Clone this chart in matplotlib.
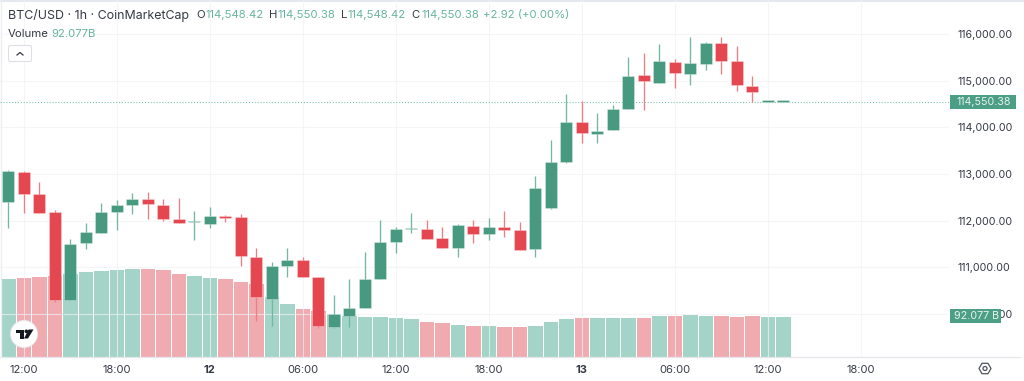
import matplotlib
matplotlib.use("Agg")
import matplotlib.pyplot as plt
from matplotlib.patches import FancyBboxPatch, Circle, Polygon, Rectangle
from matplotlib.lines import Line2D
import numpy as np

W, H = 1024, 381
FONT = ["Inter", "Roboto", "DejaVu Sans"]
plt.rcParams["font.family"] = FONT

# Upper and lower body edge of each hourly candle, wick ends, direction, volume (billions)
body_top = [113064,113049,112571,112185,111506,111757,112185,112329,112464,112457,112342,112042,111978,112106,112100,
            112072,111215,111035,111157,111150,110793,110006,110122,110750,111549,111828,111843,111828,111621,111900,
            111892,111870,111858,111806,112693,113263,114121,114121,113921,114393,115106,115121,115415,115406,115372,
            115807,115814,115415,114892,114552,114550.38]
body_bot = [112406,112571,112170,110306,110306,111520,111742,112185,112342,112350,112042,111956,111965,111922,112057,
            111243,110370,110327,111035,110793,109736,109721,109963,110122,110750,111549,111822,111613,111408,111408,
            111720,111714,111806,111371,111386,112278,113257,113872,113864,113936,114386,114986,114956,115158,115143,
            115364,115421,114901,114751,114546,114548.42]
wick_high = [113075,113064,112835,112222,111607,111943,112372,112436,112599,112614,112457,112479,112213,112299,112121,
             112143,111420,111108,111408,111215,110800,110407,110750,111322,112008,111857,112170,112008,111870,111922,
             112020,112057,112207,111971,112957,113728,114708,114564,114307,114478,115514,115599,115792,115458,115942,
             115835,115929,115743,115100,114552,114550.38]
wick_low = [111849,112158,112158,110257,110306,111393,111742,111806,112149,112042,111999,111956,111592,111849,111965,
            111028,109850,109749,110793,110793,109706,109706,109728,110122,110750,111313,111742,111600,111408,111228,
            111528,111592,111656,111371,111228,112256,113242,113671,113671,113936,114386,114378,114956,114849,114914,
            115229,115149,114778,114549,114546,114548.42]
is_up = [1,0,0,0,1,1,1,1,1,0,0,0,1,1,0,0,0,1,1,0,0,1,1,1,1,1,1,0,0,1,0,1,0,0,1,1,1,0,1,1,1,0,1,0,1,1,0,0,0,1,1]
volume = [178.7,180.0,181.6,185.5,190.1,193.7,196.0,197.6,201.5,199.9,198.3,189.2,185.5,180.0,177.1,171.8,167.3,
          136.7,120.8,110.3,104.2,98.0,93.4,92.1,91.2,88.9,86.6,80.7,76.8,72.2,70.6,71.6,68.4,69.3,71.6,79.1,85.9,
          88.9,89.8,88.9,89.8,88.9,93.4,93.4,95.0,93.4,93.4,92.1,92.8,92.1,92.077]
x_tick_pos = [1,7,13,19,25,31,37,43,49,55]
x_tick_labels = ["12:00","18:00","12","06:00","12:00","18:00","13","06:00","12:00","18:00"]
price_ticks = [110000,111000,112000,113000,114000,115000,116000]
last_price = 114550.38

GREEN, RED = "#47997F", "#E4474F"
GWICK, RWICK = "#73B8A1", "#EC7F85"
VGREEN, VRED = "#A3D4C7", "#F0ABB1"
TXT = "#363A45"
GTXT = "#68B69D"
GRID = "#F1F2F5"

fig = plt.figure(figsize=(W/100, H/100), dpi=100, facecolor="white")
def fx(p): return p/W
def fy(p): return 1-p/H

AX_R, AX_B = 949, 357
rect = [0, 1-AX_B/H, AX_R/W, AX_B/H]
xlim = ((0-8.3)/15.5, (AX_R-8.3)/15.5)

axv = fig.add_axes(rect, zorder=1)
ax = fig.add_axes(rect, zorder=2)
ax.patch.set_alpha(0)
for a in (ax, axv):
    a.set_xlim(*xlim)
    for s in a.spines.values():
        s.set_visible(False)
axv.set_ylim(0, AX_B*2.279)
axv.set_yticks([]); axv.set_xticks([])
ax.set_ylim(116000-(AX_B-34)*21.43, 116000+34*21.43)

n = np.arange(len(volume))
axv.bar(n, volume, width=0.94, color=[VGREEN if u else VRED for u in is_up], linewidth=0)

ax.set_axisbelow(True)
ax.grid(True, color=GRID, linewidth=0.8, alpha=0.7)
ax.yaxis.tick_right()
ax.set_yticks(price_ticks)
ax.set_yticklabels([f"{t:,.2f}" for t in price_ticks], fontsize=7.7, color=TXT)
ax.tick_params(axis="y", length=0, pad=5.8)
ax.set_xticks(x_tick_pos)
ax.set_xticklabels(x_tick_labels, fontsize=8.0, color=TXT)
for lb, s in zip(ax.get_xticklabels(), x_tick_labels):
    if len(s) == 2:
        lb.set_fontweight("bold")
ax.tick_params(axis="x", length=0, pad=6)

bc = [GREEN if u else RED for u in is_up]
wc = [GWICK if u else RWICK for u in is_up]
ax.vlines(n, wick_low, wick_high, colors=wc, linewidth=0.95, zorder=3)
heights = np.maximum(np.array(body_top)-np.array(body_bot), 30)
ax.bar(n, heights, bottom=body_bot, width=0.76, color=bc, edgecolor="#FFFFFF66",
       linewidth=0.5, zorder=4)
ax.axhline(last_price, color="#7CC2AB", linewidth=0.8, linestyle=(0, (1, 1.6)), zorder=2.5)

fl = fig.add_artist
# Frame lines
fl(Line2D([0, 1020/W], [fy(357)]*2, color="#E4E6EC", lw=0.9))
fl(Line2D([0, 1], [fy(0.5)]*2, color="#E2E4EC", lw=1.2))
fl(Line2D([fx(0.5)]*2, [fy(0), fy(357)], color="#ECEDF3", lw=1))

# Header
def t(x, y, s, color=TXT, size=8.2, **kw):
    return fig.text(fx(x), fy(y), s, color=color, fontsize=size, va="center", ha=kw.pop("ha", "left"), **kw)

t(8, 15, "BTC/USD · 1h · CoinMarketCap", size=8.95)
for x, s, col in [(196, "O", TXT), (205.5, "114,548.42", GTXT), (268.5, "H", TXT), (278, "114,550.38", GTXT),
                  (340.5, "L", TXT), (348, "114,548.42", GTXT), (411, "C", TXT), (421, "114,550.38", GTXT),
                  (483, "+2.92 (+0.00%)", GTXT)]:
    t(x, 15, s, col, 8.2)
t(8, 34, "Volume", TXT, 8.2)
t(51, 34, "92.077", GTXT, 8.2)
t(88, 34, "B", GTXT, 8.2)

# Price labels
def tag(x0, x1, y0, y1, s):
    fl(Rectangle((fx(x0), fy(y1)), (x1-x0)/W, (y1-y0)/H, fc="#4C9E85", ec="none",
                 transform=fig.transFigure, zorder=5))
    t((x0+x1)/2+0.5, (y0+y1)/2, s, "#E6F3EF", 7.7, ha="center", zorder=6)
tag(950, 1016, 95, 109, "114,550.38")
tag(950, 1001, 309, 323, "92.077 B")

# Overlay in pixel coordinates: button, logo, settings icon
logo = fig.add_axes([0, 0, 1, 1], zorder=7)
logo.set_xlim(0, W); logo.set_ylim(H, 0); logo.axis("off"); logo.patch.set_alpha(0)
logo.add_patch(FancyBboxPatch((8.5, 45.5), 23, 16, boxstyle="round,pad=0,rounding_size=2",
                              fc="white", ec="#DDDFE5", lw=0.8))
logo.add_line(Line2D([17, 20, 23], [55, 52.5, 55], color=TXT, lw=0.9))
logo.add_patch(Circle((24, 334), 14, fc="#E9EAEE", ec="none"))
logo.add_patch(Circle((24, 334), 13, fc="white", ec="none"))
logo.add_patch(Polygon([(15.5, 329.5), (24, 329.5), (24, 338.5), (20, 338.5), (20, 333), (15.5, 333)], fc="#131722", ec="none"))
logo.add_patch(Circle((26.3, 331.3), 1.8, fc="#131722", ec="none"))
logo.add_patch(Polygon([(28.5, 329.5), (33.5, 329.5), (28, 338.5), (24, 338.5)], fc="#131722", ec="none"))
ang = np.deg2rad(np.arange(0, 360, 60))
logo.add_patch(Polygon(np.c_[985+6*np.cos(ang), 368.5+6*np.sin(ang)], fc="white", ec="#50535E", lw=0.9, joinstyle="round"))
logo.add_patch(Circle((985, 368.5), 2, fc="white", ec="#50535E", lw=0.9))

fig.savefig("out.png", dpi=100)
